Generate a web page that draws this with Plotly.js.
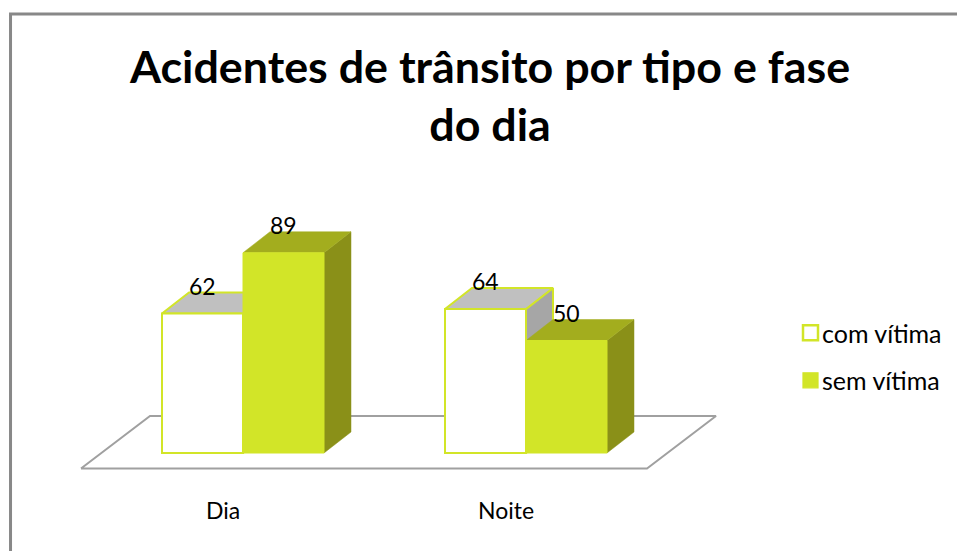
<!DOCTYPE html>
<html><head><meta charset="utf-8">
<script src="https://cdn.plot.ly/plotly-3.0.1.min.js"></script>
<style>html,body{margin:0;padding:0;background:#fff}#c{width:957px;height:551px}</style>
</head><body><div id="c"></div>
<script>
const categories = ['Dia', 'Noite'];
const comVitima = [62, 64];
const semVitima = [89, 50];
const seriesNames = ['com vítima', 'sem vítima'];
const chartTitle = 'Acidentes de trânsito por tipo e fase<br>do dia';

const LIME = '#d2e528', LIME_TOP = '#a3ad1e', LIME_SIDE = '#8a9018';
const GREY_TOP = '#c0c0c0', GREY_SIDE = '#a6a6a6', FLOOR = '#a0a0a0', FRAME = '#888888';
const FONT = 'Lato, Carlito, sans-serif';

const W = 957, H = 551, BOTTOM = 71;
const pxPerCat = 283, pxPerVal = 2.25, x0Px = 243, y0Px = 453;
const xRange = [-x0Px / pxPerCat, (W - x0Px) / pxPerCat];
const yRange = [-(H - BOTTOM - y0Px) / pxPerVal, y0Px / pxPerVal];
const barW = 81 / pxPerCat, depthX = 27 / pxPerCat, depthY = 21 / pxPerVal;
const pos = categories.map((_, i) => i);
const tickShift = 20 / pxPerCat;

function face(x, y, color, lineColor, lineW) {
  return {type: 'scatter', mode: 'lines', x, y, fill: 'toself', fillcolor: color,
    line: {color: lineColor || color, width: lineW === undefined ? 0.5 : lineW},
    hoverinfo: 'skip', showlegend: false, xaxis: 'x', yaxis: 'y'};
}
function depthFaces(values, offset, topCol, sideCol, lineCol, lineW) {
  const out = [];
  values.forEach((v, i) => {
    const l = pos[i] + offset, r = l + barW;
    out.push(face([r, r + depthX, r + depthX, r, r], [0, depthY, v + depthY, v, 0], sideCol, lineCol, lineW));
    out.push(face([l, l + depthX, r + depthX, r, l], [v, v + depthY, v + depthY, v, v], topCol, lineCol, lineW));
  });
  return out;
}
const floorX0 = -162 / pxPerCat, floorX1 = floorX0 + 566 / pxPerCat;
const floorLow = -15.5 / pxPerVal, floorHigh = 37 / pxPerVal, floorSkew = 69 / pxPerCat;
const floor = {type: 'scatter', mode: 'lines',
  x: [floorX0, floorX0 + floorSkew, floorX1 + floorSkew, floorX1, floorX0],
  y: [floorLow, floorHigh, floorHigh, floorLow, floorLow],
  line: {color: FLOOR, width: 2}, hoverinfo: 'skip', showlegend: false, xaxis: 'x', yaxis: 'y'};

const bars = [
  {type: 'bar', name: seriesNames[0], x: pos, y: comVitima, legendgroup: 'a', xaxis: 'x2', yaxis: 'y2',
   marker: {color: '#ffffff', line: {color: LIME, width: 2}}, hoverinfo: 'skip'},
  {type: 'bar', name: seriesNames[1], x: pos, y: semVitima, legendgroup: 'b', xaxis: 'x2', yaxis: 'y2',
   marker: {color: LIME, line: {color: LIME, width: 1}}, hoverinfo: 'skip'}
];

const data = [floor]
  .concat(depthFaces(comVitima, -barW, GREY_TOP, GREY_SIDE, LIME, 2))
  .concat(depthFaces(semVitima, 0, LIME_TOP, LIME_SIDE))
  .concat(bars);

const labelAnn = (values, offset) => values.map((v, i) => ({
  x: pos[i] + offset + barW / 2, y: v, xref: 'x2', yref: 'y2', text: String(v), showarrow: false,
  yshift: 28, xanchor: 'center', yanchor: 'middle', font: {family: FONT, size: 23, color: '#000'}
}));

const layout = {
  width: W, height: H, margin: {l: 0, r: 0, t: 0, b: BOTTOM, autoexpand: false},
  paper_bgcolor: '#fff', plot_bgcolor: 'rgba(0,0,0,0)', barmode: 'group', bargap: 1 - 2 * barW, bargroupgap: 0,
  font: {family: FONT, color: '#000'},
  title: {text: chartTitle, x: 490 / W, xanchor: 'center', xref: 'paper', yref: 'container', y: 1 - 83 / H, yanchor: 'top',
    font: {family: FONT, size: 44.8, weight: 700, color: '#000'}},
  xaxis: {range: xRange, tickvals: pos.map(p => p - tickShift), ticktext: categories, showgrid: false, zeroline: false, showline: false,
    ticks: '', ticklabelstandoff: 15, tickfont: {family: FONT, size: 23, color: '#000'}, fixedrange: true},
  yaxis: {range: yRange, visible: false, fixedrange: true},
  xaxis2: {range: xRange, overlaying: 'x', visible: false, fixedrange: true},
  yaxis2: {range: yRange, overlaying: 'y', visible: false, fixedrange: true},
  legend: {x: 789 / W, xanchor: 'left', y: 1 - 310 / H, yanchor: 'top', yref: 'container', tracegroupgap: 12, traceorder: 'grouped',
    font: {family: FONT, size: 25, color: '#000'}, bgcolor: 'rgba(0,0,0,0)'},
  annotations: labelAnn(comVitima, -barW).concat(labelAnn(semVitima, 0)),
  shapes: [{type: 'path', xref: 'paper', yref: 'paper', layer: 'above',
    path: 'M 0.011 -0.2 L 0.011 ' + (1 - 14 / (H - BOTTOM)) + ' L 1.01 ' + (1 - 14 / (H - BOTTOM)),
    line: {color: FRAME, width: 3}}]
};
Plotly.newPlot('c', data, layout, {displayModeBar: false, staticPlot: true}).then(gd => {
  gd.querySelectorAll('.legend .legendtext').forEach(t => t.setAttribute('x', 33));
  gd.querySelectorAll('.legend .legendpoints path').forEach(p => p.setAttribute('transform', 'translate(21.5,0) scale(1.25)'));
});
</script></body></html>
